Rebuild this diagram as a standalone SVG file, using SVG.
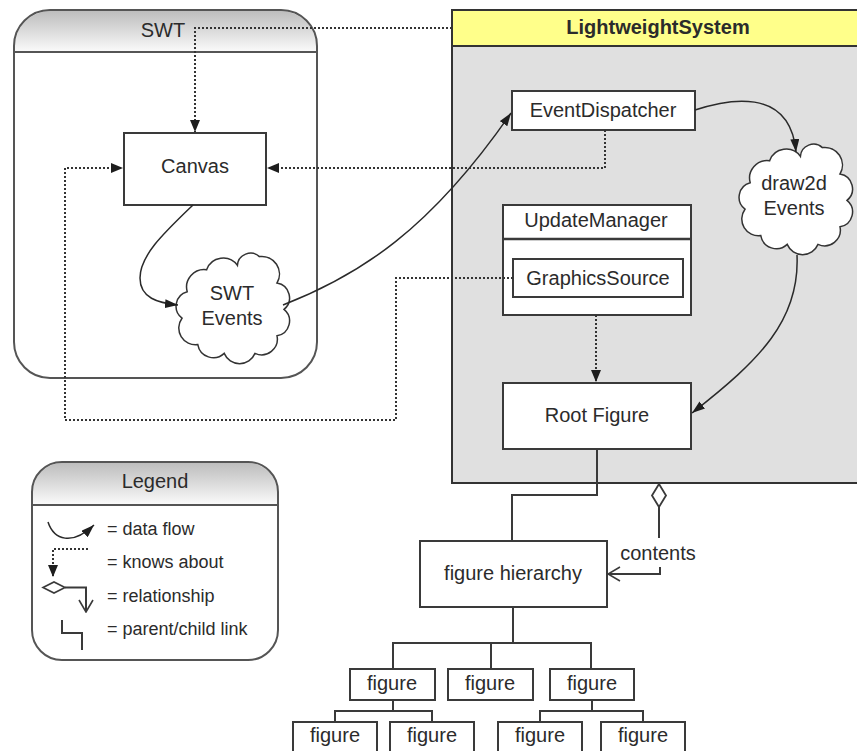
<svg xmlns="http://www.w3.org/2000/svg" width="857" height="751" viewBox="0 0 857 751">
<style>
text{font-family:"Liberation Sans",Arial,sans-serif;font-size:20px;fill:#2b2b2b;text-anchor:middle}
.box{fill:#fff;stroke:#3a3a3a;stroke-width:2}
.frame{fill:none;stroke:#555;stroke-width:2}
.flow{fill:none;stroke:#2a2a2a;stroke-width:1.5;marker-end:url(#fa)}
.dot{fill:none;stroke:#333;stroke-width:2;stroke-dasharray:2 2}
.dota{marker-end:url(#ka)}
.link{fill:none;stroke:#3a3a3a;stroke-width:2}
.rel{fill:none;stroke:#3a3a3a;stroke-width:2;marker-end:url(#oa)}
.leg{font-size:18px;text-anchor:start}
.cloud{fill:#fff;stroke:#333;stroke-width:1.5}
</style>
<defs>
<linearGradient id="hdr" x1="0" y1="0" x2="0" y2="1">
<stop offset="0" stop-color="#bdbdbd"/>
<stop offset="1" stop-color="#fbfbfb"/>
</linearGradient>
<marker id="fa" markerUnits="userSpaceOnUse" viewBox="0 0 13 9" refX="13" refY="4.5" markerWidth="13" markerHeight="9" orient="auto">
<path d="M0,0 L13,4.5 L0,9 z" fill="#1e1e1e"/>
</marker>
<marker id="ka" markerUnits="userSpaceOnUse" viewBox="0 0 12 10" refX="12" refY="5" markerWidth="12" markerHeight="10" orient="auto">
<path d="M0,0 L12,5 L0,10 z" fill="#1e1e1e"/>
</marker>
<marker id="oa" markerUnits="userSpaceOnUse" viewBox="-1 -1 14 16" refX="12" refY="7" markerWidth="14" markerHeight="16" orient="auto">
<path d="M0,0 L12,7 L0,14" fill="none" stroke="#3a3a3a" stroke-width="1.6"/>
</marker>
<path id="cloud" d="M-26.4,-35.2 A17.6,17.6 0 0 1 4.4,-39.6 A13.2,13.2 0 0 1 26.4,-48.4 A17.6,17.6 0 0 1 44,-22 A15,15 0 0 1 51,4.4 A15,15 0 0 1 44,30.8 A15.8,15.8 0 0 1 22,48.4 A16.7,16.7 0 0 1 -8.8,48.4 A15.8,15.8 0 0 1 -35.2,39.6 A16.7,16.7 0 0 1 -51,13.2 A15,15 0 0 1 -45.8,-13.2 A17.6,17.6 0 0 1 -26.4,-35.2 Z"/>
</defs>

<g id="lightweight-system">
<rect x="452" y="10" width="420" height="473" fill="#e0e0e0" stroke="#333" stroke-width="2"/>
<rect x="452" y="10" width="420" height="36" fill="#ffff8a" stroke="#333" stroke-width="2"/>
<text x="658" y="34" font-weight="bold">LightweightSystem</text>
</g>

<g id="swt">
<rect x="14" y="10" width="303" height="368" rx="36" fill="#fff"/>
<path d="M15,52 V46 A35,35 0 0 1 50,11 H281 A35,35 0 0 1 316,46 V52 Z" fill="url(#hdr)"/>
<line x1="14" y1="52" x2="317" y2="52" stroke="#555" stroke-width="2"/>
<rect x="14" y="10" width="303" height="368" rx="36" class="frame"/>
<text x="163" y="37">SWT</text>
</g>

<g id="legend">
<rect x="32" y="462" width="246" height="198" rx="30" fill="#fff"/>
<path d="M33,505 V492 A29,29 0 0 1 62,463 H248 A29,29 0 0 1 277,492 V505 Z" fill="url(#hdr)"/>
<line x1="32" y1="505" x2="278" y2="505" stroke="#555" stroke-width="2"/>
<rect x="32" y="462" width="246" height="198" rx="30" class="frame"/>
<text x="155" y="488">Legend</text>
<path d="M48,522 C54,540 72,546 94,525" class="flow"/>
<text x="107" y="535" class="leg">= data flow</text>
<path d="M88,549 H53 V577" class="dot dota"/>
<text x="107" y="568" class="leg">= knows about</text>
<path d="M43,587.5 L54,582 L65,587.5 L54,593 Z" fill="#fff" stroke="#3a3a3a" stroke-width="1.6"/>
<path d="M65,587.5 H86 V612" class="rel"/>
<text x="107" y="602" class="leg">= relationship</text>
<path d="M62,620 V633 H82 V650" class="link"/>
<text x="107" y="635" class="leg">= parent/child link</text>
</g>

<g id="canvas">
<rect x="124" y="133" width="142" height="72" class="box"/>
<text x="195" y="173">Canvas</text>
</g>

<g id="swt-events">
<use href="#cloud" transform="translate(233,305)" class="cloud"/>
<text x="232" y="300">SWT</text>
<text x="232" y="325">Events</text>
</g>

<g id="event-dispatcher">
<rect x="512" y="91" width="183" height="39" class="box"/>
<text x="603" y="117">EventDispatcher</text>
</g>

<g id="draw2d-events">
<use href="#cloud" transform="translate(796,196)" class="cloud"/>
<text x="794" y="190">draw2d</text>
<text x="794" y="215">Events</text>
</g>

<g id="update-manager">
<rect x="503" y="205" width="188" height="110" class="box"/>
<line x1="503" y1="239" x2="691" y2="239" stroke="#3a3a3a" stroke-width="2.5"/>
<text x="596" y="227">UpdateManager</text>
</g>

<g id="graphics-source">
<rect x="513" y="259" width="170" height="38" class="box"/>
<text x="598" y="285">GraphicsSource</text>
</g>

<g id="root-figure">
<rect x="503" y="383" width="188" height="66" class="box"/>
<text x="597" y="422">Root Figure</text>
</g>

<g id="figure-hierarchy">
<rect x="420" y="541" width="187" height="66" class="box"/>
<text x="513" y="580">figure hierarchy</text>
</g>

<g id="figure-1"><rect x="350" y="669" width="85" height="31" class="box"/><text x="392" y="690">figure</text></g>
<g id="figure-2"><rect x="448" y="669" width="85" height="31" class="box"/><text x="490" y="690">figure</text></g>
<g id="figure-3"><rect x="550" y="669" width="84" height="31" class="box"/><text x="592" y="690">figure</text></g>
<g id="figure-1a"><rect x="293" y="722" width="84" height="40" class="box"/><text x="335" y="742">figure</text></g>
<g id="figure-1b"><rect x="390" y="722" width="84" height="40" class="box"/><text x="432" y="742">figure</text></g>
<g id="figure-3a"><rect x="498" y="722" width="84" height="40" class="box"/><text x="540" y="742">figure</text></g>
<g id="figure-3b"><rect x="601" y="722" width="84" height="40" class="box"/><text x="643" y="742">figure</text></g>

<g id="connectors">
<path d="M452,28 H195 V132" class="dot dota"/>
<path d="M605,130 V168 H267" class="dot dota"/>
<path d="M513,278 H396 V420 H65 V168 H123" class="dot dota"/>
<path d="M596,315 V382" class="dot dota"/>
<path d="M193,205 C165,232 140,255 140,278 C140,298 158,303 178,305" class="flow"/>
<path d="M283,305 C360,275 430,230 511,113" class="flow"/>
<path d="M695,110 C725,100 790,85 796,152" class="flow"/>
<path d="M797,255 C800,320 760,360 692,413" class="flow"/>
<path d="M597,449 V495 H512 V541" class="link"/>
<path d="M513,607 V643" class="link"/>
<path d="M393,669 V643 H591 V669" class="link"/>
<path d="M491,643 V669" class="link"/>
<path d="M393,700 V711" class="link"/>
<path d="M335,722 V711 H432 V722" class="link"/>
<path d="M592,700 V711" class="link"/>
<path d="M540,722 V711 H643 V722" class="link"/>
<path d="M659,484 L666,495.5 L659,507 L652,495.5 Z" fill="#fff" stroke="#3a3a3a" stroke-width="1.8"/>
<path d="M659,507 V538" class="link"/>
<path d="M660,567 V574 H608" class="rel"/>
<text x="658" y="560">contents</text>
</g>
</svg>
